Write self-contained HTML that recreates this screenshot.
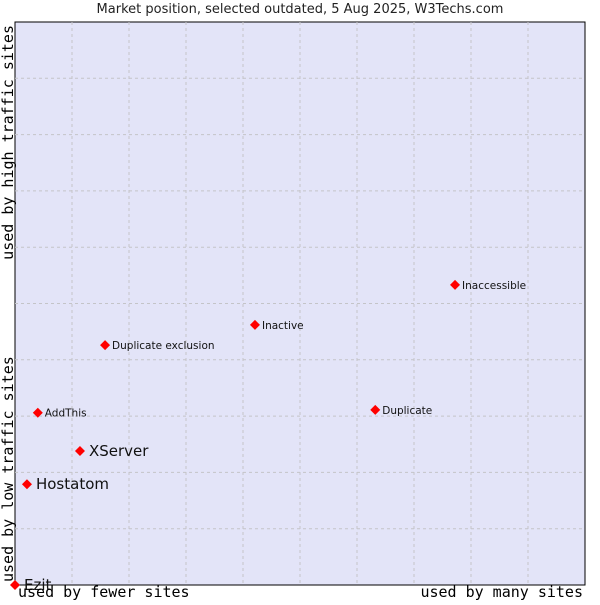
<!DOCTYPE html>
<html><head><meta charset="utf-8"><style>
body{margin:0;background:#fff;width:600px;height:600px;overflow:hidden}
svg text{font-family:"DejaVu Sans","Liberation Sans",sans-serif}
.mono{font-family:"DejaVu Sans Mono","Liberation Mono",monospace}
</style></head><body>
<svg id="chart" width="600" height="600" xmlns="http://www.w3.org/2000/svg">
<text x="300" y="13" font-size="13" text-anchor="middle" fill="#222">Market position, selected outdated, 5 Aug 2025, W3Techs.com</text>
<rect x="15" y="22" width="570" height="563" fill="#e3e4f8" stroke="#000" stroke-width="1"/>
<g id="grid"></g>
<g id="points"></g>
<text class="mono" x="18" y="597" font-size="15" fill="#000">used by fewer sites</text>
<text class="mono" x="583" y="597" font-size="15" text-anchor="end" fill="#000">used by many sites</text>
<text class="mono" transform="translate(13,582) rotate(-90)" font-size="15" fill="#000">used by low traffic sites</text>
<text class="mono" transform="translate(13,25) rotate(-90)" font-size="15" text-anchor="end" fill="#000">used by high traffic sites</text>
</svg>
<script>
const names=["Ezit","Hostatom","XServer","AddThis","Duplicate exclusion","Inactive","Duplicate","Inaccessible"];
const xValues=[0,2.1,11.4,4.0,15.8,42.1,63.2,77.2];
const yValues=[0,17.9,23.8,30.6,42.6,46.2,31.1,53.3];
const labelSizes=[15,15,15,10.5,10.5,10.5,10.5,10.5];
const L=15,T=22,W=570,H=563;
const sx=v=>L+v/100*W, sy=v=>T+H-v/100*H;
const NS="http://www.w3.org/2000/svg";
const grid=document.getElementById('grid');
for(let i=1;i<10;i++){
  const a=document.createElementNS(NS,'line');
  
  
  a.setAttribute('x1',sx(i*10));a.setAttribute('x2',sx(i*10));a.setAttribute('y1',T);a.setAttribute('y2',T+H);
  a.setAttribute('stroke','#c4c4c8');a.setAttribute('stroke-dasharray','3,3');grid.appendChild(a);
  const b=document.createElementNS(NS,'line');
  
  
  b.setAttribute('y1',sy(i*10));b.setAttribute('y2',sy(i*10));b.setAttribute('x1',L);b.setAttribute('x2',L+W);
  b.setAttribute('stroke','#c4c4c8');b.setAttribute('stroke-dasharray','3,3');grid.appendChild(b);
}
const pts=document.getElementById('points');
names.forEach((n,i)=>{
  const x=sx(xValues[i]),y=sy(yValues[i]);
  const d=document.createElementNS(NS,'path');
  
  
  d.setAttribute('d',`M${x-5},${y}L${x},${y-5}L${x+5},${y}L${x},${y+5}Z`);
  d.setAttribute('fill','#f00');pts.appendChild(d);
  const t=document.createElementNS(NS,'text');
  
  
  t.setAttribute('x',x+(labelSizes[i]>12?9:7));t.setAttribute('y',y+(labelSizes[i]>12?5:4));
  t.setAttribute('font-size',labelSizes[i]);t.setAttribute('fill','#111');
  t.textContent=n;pts.appendChild(t);
});
</script>
</body></html>
